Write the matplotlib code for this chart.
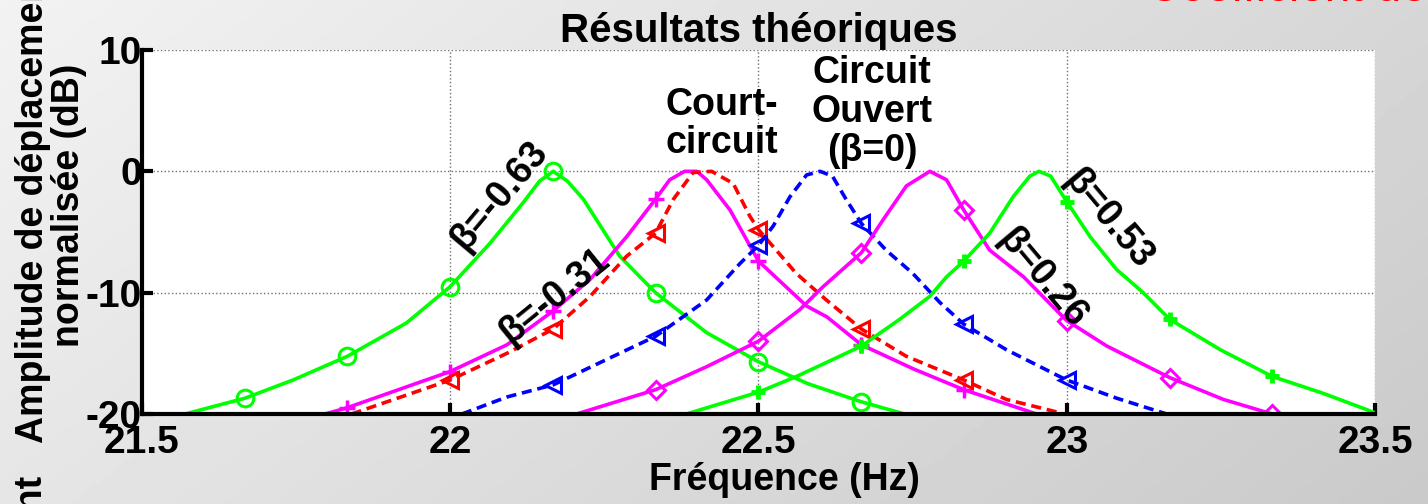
import numpy as np
import matplotlib
matplotlib.use('Agg')
import matplotlib.pyplot as plt

plt.rcParams['font.family'] = ['Liberation Sans', 'DejaVu Sans']
plt.rcParams['font.weight'] = 'bold'
plt.rcParams['axes.unicode_minus'] = False

# Frequency (Hz) / normalised amplitude (dB)
freq_m063 = [21.57, 21.667, 21.745, 21.833, 21.929, 22.0, 22.065, 22.118, 22.145, 22.167,
             22.19, 22.216, 22.275, 22.333, 22.416, 22.5, 22.58, 22.667, 22.737]
amp_m063 = [-20.0, -18.7, -17.2, -15.25, -12.5, -9.5, -5.9, -2.6, -0.8, 0.0,
            -0.8, -2.3, -7.0, -10.0, -13.3, -15.7, -17.5, -19.0, -20.0]

freq_m031 = [21.797, 21.832, 22.0, 22.092, 22.167, 22.227, 22.286, 22.333, 22.356, 22.38,
             22.40, 22.416, 22.454, 22.5, 22.578, 22.611, 22.667, 22.752, 22.833, 22.951]
amp_m031 = [-20.0, -19.5, -16.5, -14.3, -11.5, -8.9, -5.4, -2.3, -0.7, 0.0,
            0.0, -0.7, -3.2, -7.4, -11.1, -12.0, -14.3, -16.3, -18.0, -20.0]

freq_cc = [21.84, 22.0, 22.092, 22.167, 22.227, 22.286, 22.333, 22.362, 22.394, 22.424,
           22.459, 22.486, 22.5, 22.561, 22.61, 22.667, 22.74, 22.833, 22.902, 22.989]
amp_cc = [-20.0, -17.2, -15.0, -13.0, -10.3, -7.0, -5.1, -2.3, -0.1, 0.0,
          -1.0, -3.7, -4.8, -8.4, -10.6, -13.0, -15.25, -17.2, -18.8, -19.9]

freq_co = [22.019, 22.092, 22.167, 22.254, 22.333, 22.416, 22.47, 22.5, 22.524, 22.551,
           22.578, 22.6, 22.62, 22.642, 22.667, 22.707, 22.75, 22.794, 22.833, 22.902,
           22.984, 23.0, 23.081, 23.162]
amp_co = [-20.0, -18.6, -17.6, -15.5, -13.6, -10.6, -7.6, -6.1, -4.5, -2.1,
          -0.3, 0.0, -0.4, -2.3, -4.3, -6.5, -8.4, -10.8, -12.6, -14.7,
          -16.8, -17.2, -18.7, -20.0]

freq_p026 = [22.205, 22.333, 22.416, 22.5, 22.567, 22.605, 22.667, 22.702, 22.74, 22.778,
             22.805, 22.833, 22.875, 22.93, 22.99, 23.0, 23.065, 23.167, 23.254, 23.333]
amp_p026 = [-20.0, -18.0, -16.1, -14.0, -11.4, -9.5, -6.7, -4.0, -1.2, 0.0,
            -0.7, -3.2, -6.5, -8.7, -11.8, -12.3, -14.4, -17.0, -18.8, -20.0]

freq_p053 = [22.383, 22.5, 22.562, 22.621, 22.667, 22.729, 22.778, 22.805, 22.833, 22.875,
             22.913, 22.94, 22.955, 22.974, 23.0, 23.038, 23.081, 23.124, 23.167, 23.249,
             23.333, 23.416, 23.5]
amp_p053 = [-20.0, -18.2, -16.9, -15.5, -14.4, -12.2, -10.3, -8.7, -7.4, -5.1,
            -2.1, -0.4, 0.0, -0.4, -2.5, -5.4, -8.1, -10.0, -12.2, -14.7,
            -16.9, -18.3, -19.9]

x_ticks = [21.5, 22, 22.5, 23, 23.5]
x_tick_labels = ['21.5', '22', '22.5', '23', '23.5']
y_ticks = [-20, -10, 0, 10]


def marker_idx(freqs):
    # markers sit every 1/6 Hz
    return [i for i, f in enumerate(freqs)
            if abs(f * 6 - round(f * 6)) < 0.02 and 21.6 < f < 23.4]


fig = plt.figure(figsize=(14.28, 5.04), dpi=100)

# grey gradient background
bg = fig.add_axes([0, 0, 1, 1], zorder=-10)
gx, gy = np.meshgrid(np.linspace(0, 1, 300), np.linspace(0, 1, 100))
bg.imshow(0.95 - 0.11 * gx - 0.05 * gy, cmap='gray', vmin=0, vmax=1,
          aspect='auto', extent=[0, 1, 0, 1], origin='upper')
bg.axis('off')

ax = fig.add_axes([0.0994, 0.1786, 0.8635, 0.7222])
ax.set_facecolor('white')

lw = 2.6
dash = (2.8, 1.6)
ax.plot(freq_m063, amp_m063, color='#00ff00', lw=lw, marker='o', ms=12, mfc='none',
        mew=2.2, markevery=marker_idx(freq_m063))
ax.plot(freq_m031, amp_m031, color='#ff00ff', lw=lw, marker='+', ms=11,
        mew=2.5, markevery=marker_idx(freq_m031))
ax.plot(freq_cc, amp_cc, color='#ff0000', lw=lw, dashes=dash, marker='<', ms=11, mfc='none',
        mew=2.2, markevery=marker_idx(freq_cc))
ax.plot(freq_co, amp_co, color='#0000ff', lw=lw, dashes=dash, marker='<', ms=11, mfc='none',
        mew=2.2, markevery=marker_idx(freq_co))
ax.plot(freq_p026, amp_p026, color='#ff00ff', lw=lw, marker='D', ms=9, mfc='none',
        mew=2.2, markevery=marker_idx(freq_p026))
ax.plot(freq_p053, amp_p053, color='#00ff00', lw=lw, marker='+', ms=10,
        mew=3.5, markevery=marker_idx(freq_p053))

ax.set_xlim(21.5, 23.5)
ax.set_ylim(-20, 10)
ax.set_xticks(x_ticks)
ax.set_xticklabels(x_tick_labels)
ax.set_yticks(y_ticks)
ax.grid(True, linestyle=':', color='#707070', linewidth=1.0)
ax.spines['top'].set_visible(False)
ax.spines['right'].set_visible(False)
ax.spines['left'].set_linewidth(3)
ax.spines['bottom'].set_linewidth(3)
ax.tick_params(axis='both', direction='in', length=8, width=3, labelsize=28)
ax.tick_params(axis='x', pad=8)
ax.tick_params(axis='y', pad=0)

ax.set_title('Résultats théoriques', fontsize=29, fontweight='bold', pad=1)

# curve labels
ax.text(22.08, -2.0, 'β=-0.63', fontsize=27, rotation=50, ha='center', va='center')
ax.text(22.17, -10.3, 'β=-0.31', fontsize=27, rotation=39, ha='center', va='center')
ax.text(22.44, 3.9, 'Court-\ncircuit', fontsize=27, ha='center', va='center', linespacing=1.1)
ax.text(22.684, 4.9, 'Circuit\nOuvert\n(β=0)', fontsize=27, ha='center', va='center', linespacing=1.1)
ax.text(23.067, -4.0, 'β=0.53', fontsize=27, rotation=-50, ha='center', va='center')
ax.text(22.96, -8.8, 'β=0.26', fontsize=27, rotation=-50, ha='center', va='center')

fig.text(784 / 1428, 1 - 480 / 504, 'Fréquence (Hz)', fontsize=27, ha='center', va='center')
fig.text(51 / 1428, 1 - 205 / 504, 'Amplitude de déplacement\nnormalisée (dB)', fontsize=27,
         rotation=90, ha='center', va='center', linespacing=1.0)
fig.text(30 / 1428, 1 - 474 / 504, 'déplacement', fontsize=27, rotation=90,
         ha='center', va='top')
fig.text(1147 / 1428, 1 - 1 / 504, 'Coefficient de', fontsize=33, fontweight='normal',
         color='#ff0000', ha='left', va='baseline')

fig.savefig('out.png', dpi=100)
